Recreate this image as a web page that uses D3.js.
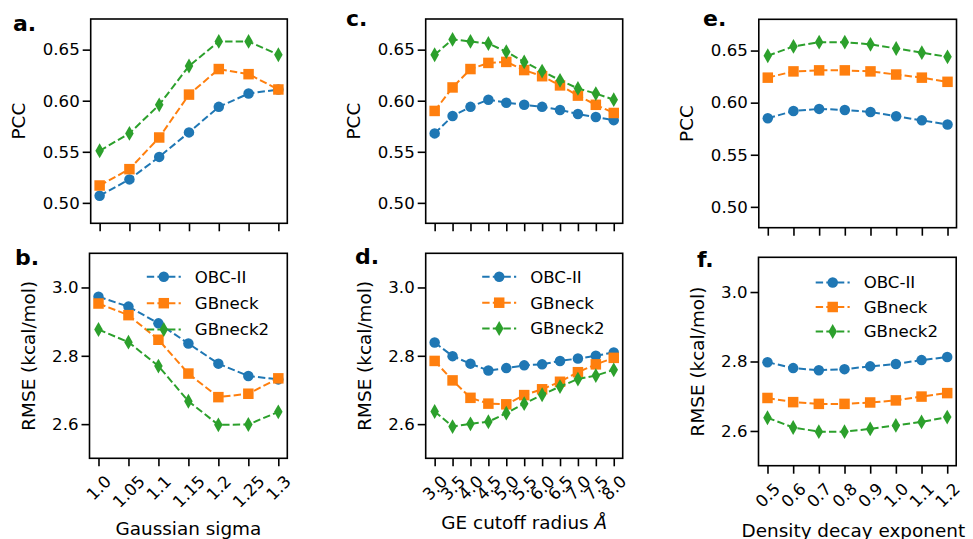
<!DOCTYPE html>
<html>
<head>
<meta charset="utf-8">
<script src="https://cdn.jsdelivr.net/npm/d3@7"></script>
<style>
  body { margin: 0; background: #fff; }
  svg { display: block; }
  text { font-family: "DejaVu Sans", sans-serif; }
</style>
</head>
<body>
<svg id="chart" width="973" height="539"></svg>
<script>
const svg = d3.select("#chart");

// x tick labels
const sigmaLabels = ["1.0", "1.05", "1.1", "1.15", "1.2", "1.25", "1.3"];
const cutoffLabels = ["3.0", "3.5", "4.0", "4.5", "5.0", "5.5", "6.0", "6.5", "7.0", "7.5", "8.0"];
const decayLabels = ["0.5", "0.6", "0.7", "0.8", "0.9", "1.0", "1.1", "1.2"];

// y ticks
const pccTicks = [0.50, 0.55, 0.60, 0.65];
const rmseTicks = [2.6, 2.8, 3.0];

const seriesNames = ["OBC-II", "GBneck", "GBneck2"];
const colors = ["#1f77b4", "#ff7f0e", "#2ca02c"];

// a. PCC vs Gaussian sigma
const pccSigmaOBC = [0.507, 0.523, 0.545, 0.569, 0.594, 0.607, 0.611];
const pccSigmaGBn = [0.517, 0.533, 0.564, 0.606, 0.631, 0.626, 0.611];
const pccSigmaGBn2 = [0.551, 0.568, 0.596, 0.634, 0.658, 0.658, 0.645];
// b. RMSE vs Gaussian sigma
const rmseSigmaOBC = [2.973, 2.944, 2.895, 2.836, 2.777, 2.741, 2.731];
const rmseSigmaGBn = [2.953, 2.919, 2.847, 2.748, 2.679, 2.689, 2.734];
const rmseSigmaGBn2 = [2.877, 2.840, 2.770, 2.667, 2.598, 2.599, 2.636];
// c. PCC vs GE cutoff radius
const pccCutOBC = [0.568, 0.585, 0.594, 0.601, 0.598, 0.596, 0.594, 0.591, 0.587, 0.584, 0.581];
const pccCutGBn = [0.590, 0.613, 0.631, 0.637, 0.638, 0.630, 0.624, 0.615, 0.605, 0.596, 0.588];
const pccCutGBn2 = [0.645, 0.660, 0.658, 0.656, 0.648, 0.638, 0.629, 0.620, 0.612, 0.607, 0.601];
// d. RMSE vs GE cutoff radius
const rmseCutOBC = [2.839, 2.799, 2.777, 2.757, 2.764, 2.772, 2.775, 2.785, 2.792, 2.800, 2.810];
const rmseCutGBn = [2.785, 2.728, 2.677, 2.660, 2.658, 2.685, 2.702, 2.724, 2.752, 2.775, 2.794];
const rmseCutGBn2 = [2.637, 2.593, 2.601, 2.607, 2.632, 2.660, 2.686, 2.710, 2.732, 2.742, 2.759];
// e. PCC vs density decay exponent
const pccDecayOBC = [0.585, 0.592, 0.594, 0.593, 0.591, 0.587, 0.583, 0.579];
const pccDecayGBn = [0.624, 0.630, 0.631, 0.631, 0.630, 0.627, 0.624, 0.620];
const pccDecayGBn2 = [0.645, 0.654, 0.658, 0.658, 0.656, 0.652, 0.648, 0.644];
// f. RMSE vs density decay exponent
const rmseDecayOBC = [2.798, 2.781, 2.775, 2.778, 2.786, 2.793, 2.804, 2.813];
const rmseDecayGBn = [2.695, 2.683, 2.678, 2.678, 2.682, 2.688, 2.699, 2.709];
const rmseDecayGBn2 = [2.638, 2.610, 2.598, 2.598, 2.606, 2.616, 2.626, 2.640];

// panel layout (box = [left, top, right, bottom])
const panels = [
  { tag: "a.", tagX: 13, tagY: 30.5, box: [90.7, 19, 287.3, 223.3], labels: sigmaLabels,
    series: [pccSigmaOBC, pccSigmaGBn, pccSigmaGBn2], kind: "pcc" },
  { tag: "b.", tagX: 15, tagY: 265, box: [89.5, 253.3, 287.3, 458.3], labels: sigmaLabels,
    series: [rmseSigmaOBC, rmseSigmaGBn, rmseSigmaGBn2], kind: "rmse",
    xlabel: "Gaussian sigma", xlabelY: 535, legendRows: [276.7, 303.2, 329.5] },
  { tag: "c.", tagX: 346, tagY: 26, box: [425.7, 19, 622.7, 223.3], labels: cutoffLabels,
    series: [pccCutOBC, pccCutGBn, pccCutGBn2], kind: "pcc" },
  { tag: "d.", tagX: 355, tagY: 264, box: [425.7, 253.3, 622.7, 458.3], labels: cutoffLabels,
    series: [rmseCutOBC, rmseCutGBn, rmseCutGBn2], kind: "rmse",
    xlabel: "GE cutoff radius ", xlabelItalic: "Å", xlabelY: 529, legendRows: [276.7, 302.7, 328.5] },
  { tag: "e.", tagX: 703, tagY: 26, box: [758.8, 19.3, 956.5, 227.7], labels: decayLabels,
    series: [pccDecayOBC, pccDecayGBn, pccDecayGBn2], kind: "pcc" },
  { tag: "f.", tagX: 697, tagY: 266.7, box: [758.5, 257.3, 956.2, 465.7], labels: decayLabels,
    series: [rmseDecayOBC, rmseDecayGBn, rmseDecayGBn2], kind: "rmse",
    xlabel: "Density decay exponent", xlabelY: 536.5, xlabelShift: -4, legendRows: [282.5, 307, 331.5] }
];

const tickFont = 16.6;
const labelFont = 18.4;
const tickLen = 8;
const dash = "7.4,3.2";

// marker symbols, matplotlib o / s / d at markersize ~10.5px
const symbols = [
  d3.symbol().type(d3.symbolCircle).size(Math.PI * 5.25 * 5.25),
  d3.symbol().type(d3.symbolSquare).size(10.5 * 10.5),
  d3.symbol().type(d3.symbolDiamond).size(7.4 * 7.4 * 2 * Math.tan(Math.PI / 6))
];

panels.forEach(p => {
  const [x0, y0, x1, y1] = p.box;
  const n = p.labels.length;
  const isPcc = p.kind === "pcc";
  const g = svg.append("g");

  const x = d3.scaleLinear()
    .domain([-0.05 * (n - 1), 1.05 * (n - 1)])
    .range([x0, x1]);
  const y = d3.scaleLinear()
    .domain(isPcc ? [0.48, 0.68] : [2.5, 3.1])
    .range([y1, y0]);

  // y axis
  const yAxis = g.append("g")
    .attr("transform", `translate(${x0},0)`)
    .call(d3.axisLeft(y)
      .tickValues(isPcc ? pccTicks : rmseTicks)
      .tickFormat(d3.format(isPcc ? ".2f" : ".1f"))
      .tickSize(tickLen)
      .tickPadding(3));
  yAxis.select(".domain").remove();
  yAxis.selectAll("line").attr("stroke", "#000").attr("stroke-width", 1.6);
  yAxis.selectAll("text")
    .attr("fill", "#000")
    .attr("font-size", tickFont)
    .attr("font-family", "DejaVu Sans");

  // x axis
  const xAxis = g.append("g")
    .attr("transform", `translate(0,${y1})`)
    .call(d3.axisBottom(x)
      .tickValues(d3.range(n))
      .tickFormat(i => isPcc ? "" : p.labels[i])
      .tickSize(tickLen));
  xAxis.select(".domain").remove();
  xAxis.selectAll("line").attr("stroke", "#000").attr("stroke-width", 1.6);
  xAxis.selectAll("text")
    .attr("fill", "#000")
    .attr("font-size", tickFont)
    .attr("font-family", "DejaVu Sans")
    .each(function() {
      const w = this.getComputedTextLength();
      const h = tickFont * 1.17;
      const half = (w + h) / (2 * Math.SQRT2);
      d3.select(this)
        .attr("y", null)
        .attr("dy", null)
        .attr("text-anchor", "middle")
        .attr("dominant-baseline", "central")
        .attr("transform", `translate(0,${tickLen + 5.5 + half}) rotate(-45)`);
    });

  // series
  const line = d3.line()
    .x((d, i) => x(i))
    .y(d => y(d));

  p.series.forEach((vals, s) => {
    g.append("path")
      .datum(vals)
      .attr("fill", "none")
      .attr("stroke", colors[s])
      .attr("stroke-width", 2)
      .attr("stroke-dasharray", dash)
      .attr("d", line);

    g.selectAll(null)
      .data(vals)
      .join("path")
      .attr("transform", (d, i) => `translate(${x(i)},${y(d)})`)
      .attr("d", symbols[s])
      .attr("fill", colors[s]);
  });

  // frame
  g.append("rect")
    .attr("x", x0)
    .attr("y", y0)
    .attr("width", x1 - x0)
    .attr("height", y1 - y0)
    .attr("fill", "none")
    .attr("stroke", "#000")
    .attr("stroke-width", 1.6);

  // y label
  const ylx = x0 - (isPcc ? 72 : 61);
  const yly = (y0 + y1) / 2;
  g.append("text")
    .attr("transform", `translate(${ylx},${yly}) rotate(-90)`)
    .attr("text-anchor", "middle")
    .attr("dominant-baseline", "central")
    .attr("font-size", labelFont)
    .attr("fill", "#000")
    .text(isPcc ? "PCC" : "RMSE (kcal/mol)");

  // panel tag
  g.append("text")
    .attr("x", p.tagX)
    .attr("y", p.tagY)
    .attr("font-size", 22)
    .attr("font-weight", "bold")
    .attr("fill", "#000")
    .text(p.tag);

  if (!isPcc) {
    // x label
    const xl = g.append("text")
      .attr("x", (x0 + x1) / 2 + (p.xlabelShift || 0))
      .attr("y", p.xlabelY)
      .attr("text-anchor", "middle")
      .attr("font-size", labelFont)
      .attr("fill", "#000")
      .text(p.xlabel);
    if (p.xlabelItalic) {
      xl.append("tspan").attr("font-style", "italic").text(p.xlabelItalic);
    }

    // legend
    const hx0 = x1 - 140.5, hx1 = x1 - 106.5, tx = x1 - 92.5;
    seriesNames.forEach((name, s) => {
      const ly = p.legendRows[s];
      g.append("line")
        .attr("x1", hx0).attr("x2", hx1)
        .attr("y1", ly).attr("y2", ly)
        .attr("stroke", colors[s])
        .attr("stroke-width", 2)
        .attr("stroke-dasharray", dash);
      g.append("path")
        .attr("transform", `translate(${(hx0 + hx1) / 2},${ly})`)
        .attr("d", symbols[s])
        .attr("fill", colors[s]);
      g.append("text")
        .attr("x", tx)
        .attr("y", ly)
        .attr("dy", "0.36em")
        .attr("font-size", tickFont)
        .attr("fill", "#000")
        .text(name);
    });
  }
});
</script>
</body>
</html>
